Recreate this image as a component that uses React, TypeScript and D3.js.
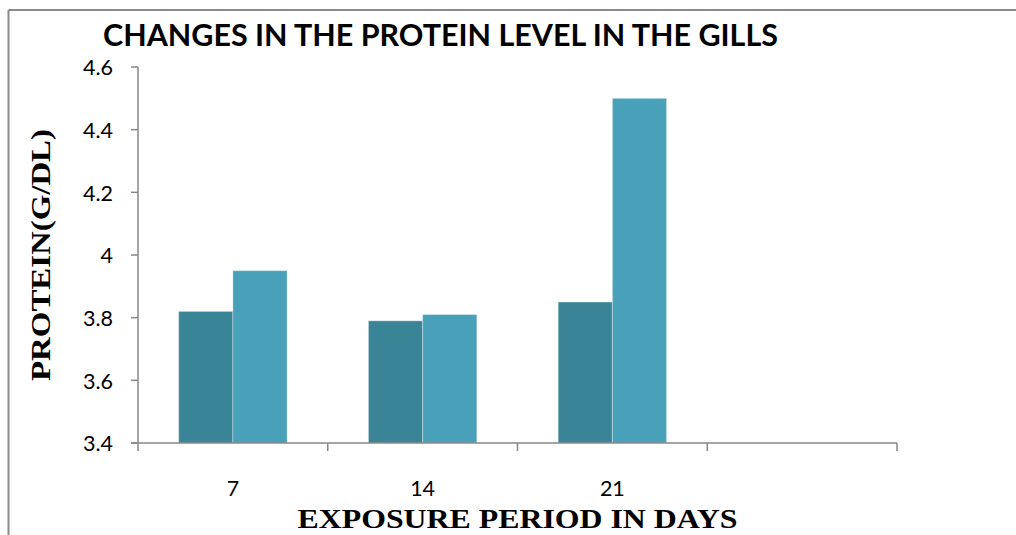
import React from "react";
import * as d3 from "d3";

const categories = ["7", "14", "21", ""];
const seriesA = [3.82, 3.79, 3.85, null];
const seriesB = [3.95, 3.81, 4.5, null];
const yTicks = [3.4, 3.6, 3.8, 4.0, 4.2, 4.4, 4.6];
const seriesKeys = ["A", "B"];
const colors = ["#398497", "#48A1B9"];

const W = 1016;
const H = 535;
const M = { left: 138, right: 897, top: 67, bottom: 443 };
const numFont = "Lato, 'Open Sans', sans-serif";
const timesFont = "'Liberation Serif', 'DejaVu Serif', serif";

export default function App() {
  const x = d3.scaleBand<string>().domain(categories).range([M.left, M.right]).paddingInner(0).paddingOuter(0);
  const xs = d3.scaleBand<string>().domain(seriesKeys).range([0, x.bandwidth()]).paddingInner(0).paddingOuter(0.75);
  const y = d3.scaleLinear().domain([3.4, 4.6]).range([M.bottom, M.top]);
  const fmt = (v: number) => (Math.round(v * 10) / 10).toString();
  const series = [seriesA, seriesB];
  const boundaries = [...categories.map((c) => x(c) as number), M.right];
  const axisColor = "#878787";

  return (
    <svg width={W} height={H} style={{ position: "absolute", left: 0, top: 0, background: "#fff" }}>
      <rect x={0} y={0} width={W} height={H} fill="#fff" />
      {/* outer frame */}
      <line x1={8.5} y1={10} x2={W} y2={10} stroke="#8a8a8a" strokeWidth={2} />
      <line x1={8.5} y1={10} x2={8.5} y2={H} stroke="#8a8a8a" strokeWidth={2} />

      {/* title */}
      <text x={103} y={46} fontFamily={numFont} fontWeight={700} fontSize={30.5} textLength={675} lengthAdjust="spacingAndGlyphs" fill="#000">
        CHANGES IN THE PROTEIN LEVEL IN THE GILLS
      </text>

      {/* bars */}
      {series.map((vals, si) =>
        categories.map((c, ci) => {
          const v = vals[ci];
          if (v == null) return null;
          const bx = (x(c) as number) + (xs(seriesKeys[si]) as number);
          return (
            <rect
              key={`${si}-${ci}`}
              x={bx}
              y={y(v)}
              width={xs.bandwidth()}
              height={y(3.4) - y(v)}
              fill={colors[si]}
              stroke="#ffffff"
              strokeOpacity={0.35}
              strokeWidth={1}
            />
          );
        })
      )}

      {/* y axis */}
      <line x1={M.left} y1={M.top} x2={M.left} y2={M.bottom} stroke={axisColor} strokeWidth={1.5} />
      {yTicks.map((t) => (
        <g key={t}>
          <line x1={M.left - 7} x2={M.left} y1={y(t)} y2={y(t)} stroke={axisColor} strokeWidth={1.5} />
          <text x={113} y={y(t)} dy="0.38em" textAnchor="end" fontFamily={numFont} fontSize={21.5} fill="#000">
            {fmt(t)}
          </text>
        </g>
      ))}

      {/* x axis */}
      <line x1={M.left - 7} y1={M.bottom} x2={M.right} y2={M.bottom} stroke={axisColor} strokeWidth={1.5} />
      {boundaries.map((bx, i) => (
        <line key={i} x1={bx} x2={bx} y1={M.bottom} y2={M.bottom + 8} stroke={axisColor} strokeWidth={1.5} />
      ))}
      {categories.map((c) => (
        <text key={c} x={(x(c) as number) + x.bandwidth() / 2} y={496} textAnchor="middle" fontFamily={numFont} fontSize={21.5} fill="#000">
          {c}
        </text>
      ))}

      {/* axis titles */}
      <text x={(M.left + M.right) / 2} y={528} textAnchor="middle" fontFamily={timesFont} fontWeight={700} fontSize={27} textLength={440} lengthAdjust="spacingAndGlyphs" fill="#000">
        EXPOSURE PERIOD IN DAYS
      </text>
      <text
        transform={`translate(50, ${(M.top + M.bottom) / 2}) rotate(-90)`}
        textAnchor="middle"
        fontFamily={timesFont}
        fontWeight={700}
        fontSize={27}
        textLength={252}
        lengthAdjust="spacingAndGlyphs"
        fill="#000"
      >
        PROTEIN(G/DL)
      </text>
    </svg>
  );
}
